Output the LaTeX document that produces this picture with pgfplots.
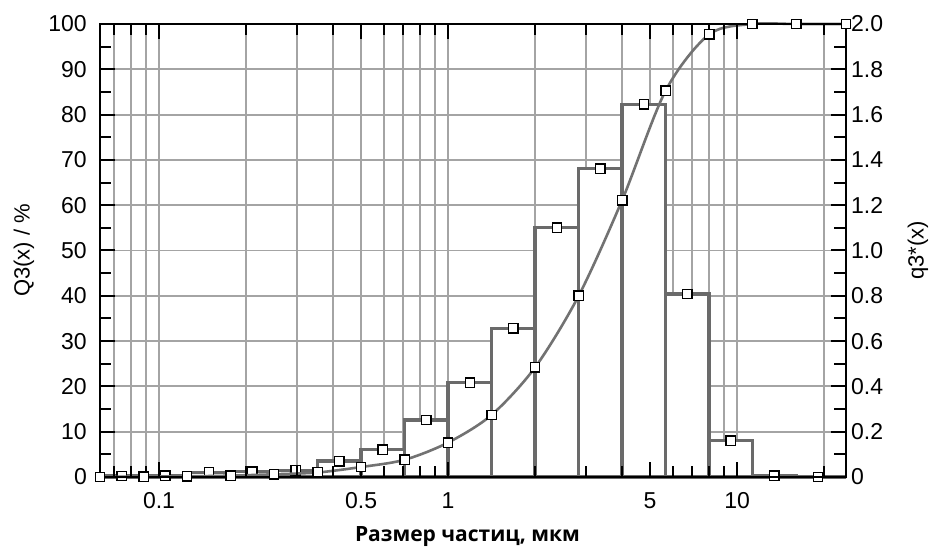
\documentclass[border=0pt]{standalone}
\usepackage{fontspec}
\setmainfont{Liberation Sans}
\newfontfamily\labelfont{Open Sans}
\usepackage{pgfplots}
\usepackage{pgfplotstable}
\pgfplotsset{compat=1.18}

\definecolor{gridgray}{HTML}{A4A4A4}
\definecolor{bargray}{HTML}{6A6A6A}
\definecolor{curvegray}{HTML}{727272}

\newcommand{\ticksize}{\fontsize{23}{27}\selectfont}
\newcommand{\labsize}{\fontsize{22}{26}\selectfont}

% cumulative distribution Q3 (%), at the upper class limits
\pgfplotstableread{
x      Q
0.0625 0
0.0884 0.1
0.125  0.15
0.177  0.3
0.25   0.6
0.354  1.0
0.5    2.2
0.707  3.8
1.0    7.6
1.414  13.7
2.0    24.2
2.83   40.0
4.0    61.1
5.66   85.3
8.0    97.7
11.3   100
16     100
23.8   100
}\cumul

% density q3* per class: class start, value (last row closes the last class)
\pgfplotstableread{
x      q
0.0625 0.004
0.0884 0.005
0.125  0.02
0.177  0.023
0.25   0.03
0.354  0.07
0.5    0.12
0.707  0.252
1.0    0.416
1.414  0.656
2.0    1.10
2.83   1.362
4.0    1.646
5.66   0.808
8.0    0.16
11.3   0.005
16     0
23.8   0
}\classes

% density q3* at the class centres
\pgfplotstableread{
x      q
0.0743 0.004
0.105  0.005
0.149  0.02
0.210  0.023
0.297  0.03
0.420  0.07
0.595  0.12
0.841  0.252
1.19   0.416
1.68   0.656
2.38   1.10
3.36   1.362
4.76   1.646
6.73   0.808
9.51   0.16
13.45  0.005
19.03  0
}\centres

\begin{document}
\begin{tikzpicture}
% background grid
\begin{axis}[scale only axis, width=746pt, height=453pt,
  xmode=log, xmin=0.0625, xmax=23.8,
  xtick={0.1,0.5,1,5,10},
  minor xtick={0.07,0.08,0.09,0.2,0.3,0.4,0.6,0.7,0.8,0.9,2,3,4,6,7,8,9,20},
  ymin=0, ymax=100, ytick={10,20,30,40,50,60,70,80,90},
  xmajorgrids, xminorgrids, ymajorgrids,
  grid style={gridgray, line width=1.9pt},
  minor grid style={gridgray, line width=1.9pt},
  major tick length=0pt, minor tick length=0pt,
  xticklabels={}, yticklabels={},
  axis line style={draw=none}]
\addplot[draw=none] coordinates {(1,50)};
\end{axis}

% class histogram on the right axis
\begin{axis}[scale only axis, width=746pt, height=453pt,
  xmode=log, xmin=0.0625, xmax=23.8,
  ymin=0, ymax=2, axis on top, clip=false,
  axis x line=none, axis y line*=right,
  ytick={0,0.2,0.4,0.6,0.8,1.0,1.2,1.4,1.6,1.8,2.0},
  yticklabels={0,0.2,0.4,0.6,0.8,1.0,1.2,1.4,1.6,1.8,2.0},
  minor ytick={0.1,0.3,0.5,0.7,0.9,1.1,1.3,1.5,1.7,1.9},
  tick align=inside,
  major tick length=15pt, minor tick length=12pt,
  tick style={black, line width=2pt},
  axis line style={black, line width=2pt},
  yticklabel style={font=\ticksize, inner sep=0pt, anchor=west, xshift=5pt},
  ylabel={q3*(x)},
  ylabel style={font=\labsize, at={(axis description cs:1.0965,0.5)}, anchor=center}]
\addplot[ybar interval, fill=white, draw=bargray, line width=3.3pt] table[x=x, y=q] {\classes};
\addplot[only marks, mark=square*, mark size=4.7pt,
  mark options={fill=white, draw=black, line width=1.4pt}] table[x=x, y=q] {\centres};
\end{axis}

% cumulative curve, left axis and size axis
\begin{axis}[scale only axis, width=746pt, height=453pt,
  xmode=log, xmin=0.0625, xmax=23.8,
  xtick={0.1,0.5,1,5,10},
  minor xtick={0.07,0.08,0.09,0.2,0.3,0.4,0.6,0.7,0.8,0.9,2,3,4,6,7,8,9,20},
  xticklabels={0.1,0.5,1,5,10},
  ymin=0, ymax=100, axis on top, clip=false,
  ytick={0,10,20,30,40,50,60,70,80,90,100},
  minor ytick={5,15,25,35,45,55,65,75,85,95},
  xtick pos=both, ytick pos=left,
  tick align=inside,
  major tick length=15pt, minor tick length=11pt,
  tick style={black, line width=2pt},
  axis line style={black, line width=2pt},
  /pgf/number format/assume math mode=true,
  xticklabel style={font=\ticksize, inner sep=0pt, anchor=north, yshift=-15pt},
  yticklabel style={font=\ticksize, inner sep=0pt, anchor=east, xshift=-13pt},
  ylabel={Q3(x) / \%},
  ylabel style={font=\labsize, at={(axis description cs:-0.1019,0.5)}, anchor=center},
  xlabel={Размер частиц, мкм},
  xlabel style={font=\labelfont\bfseries\fontsize{21}{25}\selectfont,
    at={(axis description cs:0.4926,-0.1413)}, anchor=base}]
\addplot[smooth, curvegray, line width=2.6pt, mark=square*, mark size=4.7pt,
  mark options={fill=white, draw=black, line width=1.4pt, solid}] table[x=x, y=Q] {\cumul};
\end{axis}

\pgfresetboundingbox
\path[use as bounding box] (-100pt,-69pt) rectangle (831pt,477pt);
\end{tikzpicture}
\end{document}
